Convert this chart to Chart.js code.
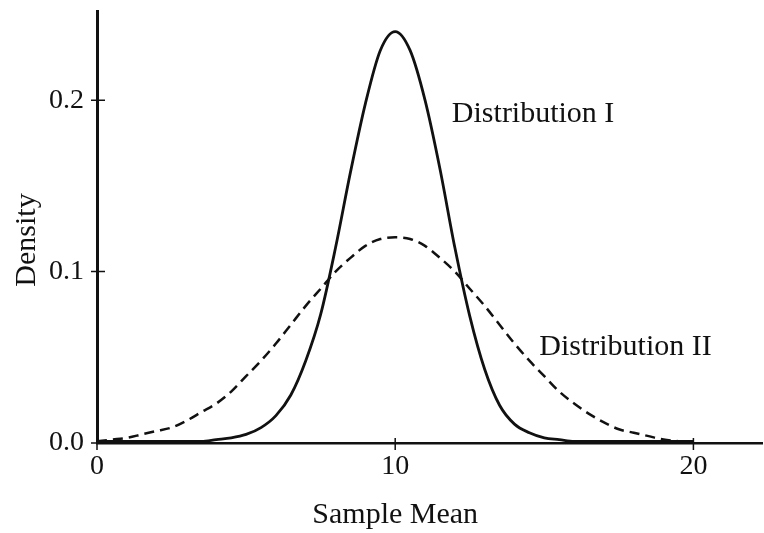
<!DOCTYPE html>
<html>
<head>
<meta charset="utf-8">
<script src="https://cdn.jsdelivr.net/npm/chart.js@4"></script>
<style>
  body { margin: 0; background: #fff; }
</style>
</head>
<body>
<canvas id="densityChart" width="764" height="533"></canvas>
<script>
// sample mean values on the x axis
const sampleMeans = [0, 0.5, 1, 1.5, 2, 2.5, 3, 3.5, 4, 4.5, 5, 5.5, 6, 6.5, 7, 7.5, 8, 8.5, 9, 9.5,
  10, 10.5, 11, 11.5, 12, 12.5, 13, 13.5, 14, 14.5, 15, 15.5, 16, 16.5, 17, 17.5, 18, 18.5, 19, 19.5, 20];

// density
const distOne = [0.001, 0.001, 0.001, 0.001, 0.001, 0.001, 0.001, 0.001, 0.002, 0.003, 0.005, 0.009, 0.016, 0.028, 0.048, 0.075, 0.114, 0.158, 0.198, 0.229,
  0.240, 0.229, 0.200, 0.160, 0.114, 0.074, 0.043, 0.022, 0.011, 0.006, 0.003, 0.002, 0.001, 0.001, 0.001, 0.001, 0.001, 0.001, 0.001, 0.001, 0.001];
const distTwo = [0.001, 0.002, 0.003, 0.005, 0.007, 0.009, 0.013, 0.018, 0.023, 0.030, 0.039, 0.048, 0.058, 0.069, 0.080, 0.090, 0.100, 0.108, 0.115, 0.119,
  0.120, 0.119, 0.115, 0.108, 0.100, 0.090, 0.080, 0.069, 0.058, 0.048, 0.039, 0.030, 0.023, 0.017, 0.012, 0.008, 0.006, 0.004, 0.002, 0.001, 0.000];

const xTicks = [0, 10, 20];
const yTicks = [0, 0.1, 0.2];

const ink = '#111';
const serif = '"Liberation Serif", "Times New Roman", serif';

// tick marks crossing the axes, curve labels and axis titles
const extras = {
  id: 'extras',
  afterDraw(chart) {
    const { ctx, scales: { x, y } } = chart;
    ctx.save();
    ctx.strokeStyle = ink;
    ctx.lineWidth = 1.5;
    ctx.beginPath();
    yTicks.forEach(v => {
      const py = y.getPixelForValue(v);
      ctx.moveTo(x.left - 6, py);
      ctx.lineTo(x.left + 8, py);
    });
    xTicks.forEach(v => {
      const px = x.getPixelForValue(v);
      ctx.moveTo(px, y.bottom - 5);
      ctx.lineTo(px, y.bottom + 7);
    });
    ctx.stroke();

    ctx.fillStyle = ink;
    ctx.font = '30px ' + serif;
    ctx.textBaseline = 'alphabetic';
    ctx.textAlign = 'left';
    ctx.fillText('Distribution I', x.getPixelForValue(11.9), y.getPixelForValue(0.187));
    ctx.fillText('Distribution II', x.getPixelForValue(14.83), y.getPixelForValue(0.0513));

    ctx.textAlign = 'center';
    ctx.fillText('Sample Mean', x.getPixelForValue(10), 523);
    ctx.translate(35, 240);
    ctx.rotate(-Math.PI / 2);
    ctx.fillText('Density', 0, 0);
    ctx.restore();
  }
};

const ctx = document.getElementById('densityChart').getContext('2d');
new Chart(ctx, {
  type: 'line',
  data: {
    datasets: [
      {
        label: 'Distribution I',
        data: sampleMeans.map((m, i) => ({ x: m, y: distOne[i] })),
        borderColor: ink,
        borderWidth: 2.8,
        pointRadius: 0,
        cubicInterpolationMode: 'monotone',
        fill: false
      },
      {
        label: 'Distribution II',
        data: sampleMeans.map((m, i) => ({ x: m, y: distTwo[i] })),
        borderColor: ink,
        borderWidth: 2.5,
        borderDash: [10, 6],
        pointRadius: 0,
        cubicInterpolationMode: 'monotone',
        fill: false
      }
    ]
  },
  options: {
    responsive: false,
    animation: false,
    layout: { padding: { top: 11, right: 2, left: 0, bottom: 0 } },
    plugins: {
      legend: { display: false },
      tooltip: { enabled: false }
    },
    scales: {
      x: {
        type: 'linear',
        min: 0,
        max: 22.3,
        afterFit: s => { s.height = 90; s.paddingLeft = 0; s.paddingRight = 0; },
        afterBuildTicks: s => { s.ticks = xTicks.map(v => ({ value: v })); },
        grid: { display: false, drawTicks: false },
        border: { display: true, color: ink, width: 2.5 },
        ticks: {
          color: ink,
          padding: 7,
          maxRotation: 0,
          font: { family: serif, size: 28 }
        }
      },
      y: {
        type: 'linear',
        min: 0,
        max: 0.252,
        afterFit: s => { s.width = 97; s.paddingTop = 0; s.paddingBottom = 0; },
        afterBuildTicks: s => { s.ticks = yTicks.map(v => ({ value: v })); },
        grid: { display: false, drawTicks: false },
        border: { display: true, color: ink, width: 3 },
        ticks: {
          color: ink,
          padding: 13,
          font: { family: serif, size: 28 },
          callback: v => v.toFixed(1)
        }
      }
    }
  },
  plugins: [extras]
});
</script>
</body>
</html>
